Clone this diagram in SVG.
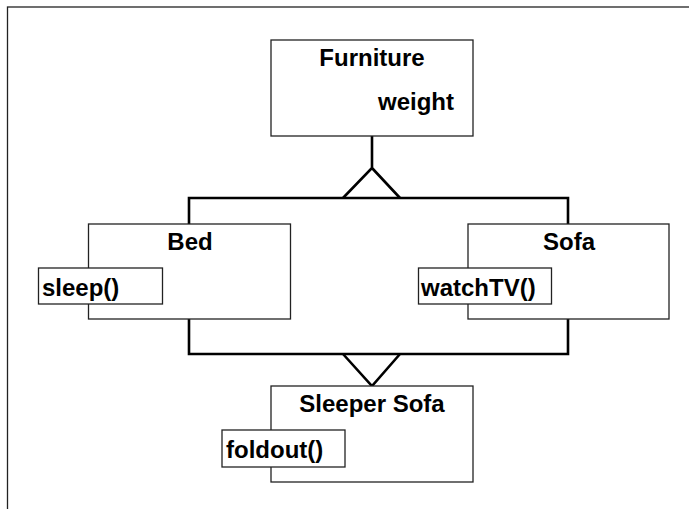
<svg xmlns="http://www.w3.org/2000/svg" width="689" height="509" viewBox="0 0 689 509">
  <style>
    .box { fill: #fff; stroke: #222; stroke-width: 1.3; }
    .conn { fill: none; stroke: #000; stroke-width: 2.6; stroke-linejoin: miter; }
    .t { font-family: "Liberation Sans", Arial, sans-serif; font-weight: bold; font-size: 24px; fill: #000; }
    .c { text-anchor: middle; }
  </style>
  <rect width="689" height="509" fill="#fff"/>
  <!-- frame -->
  <rect x="7.5" y="7" width="700" height="520" fill="none" stroke="#222" stroke-width="1.3"/>

  <g id="connectors">
    <!-- generalisation: Bed, Sofa -> Furniture -->
    <path class="conn" d="M372 136 V168 L343 198 M372 168 L400 198"/>
    <path class="conn" d="M189 224 V198 H568 V224"/>
    <!-- Bed, Sofa -> Sleeper Sofa -->
    <path class="conn" d="M189 319 V354 H568 V319"/>
    <path class="conn" d="M343 354 L372 386 L400 354"/>
  </g>

  <g id="furniture">
    <rect class="box" x="271" y="40" width="202" height="96"/>
    <text class="t c" x="372" y="66">Furniture</text>
    <text class="t" x="378" y="110">weight</text>
  </g>

  <g id="bed">
    <rect class="box" x="88.5" y="224" width="202" height="95"/>
    <text class="t c" x="190" y="250">Bed</text>
    <rect class="box" x="38.5" y="268" width="124" height="36"/>
    <text class="t" x="42" y="296">sleep()</text>
  </g>

  <g id="sofa">
    <rect class="box" x="468" y="224" width="201" height="95"/>
    <text class="t c" x="569" y="250">Sofa</text>
    <rect class="box" x="418.5" y="268" width="133" height="36"/>
    <text class="t" x="421" y="296">watchTV()</text>
  </g>

  <g id="sleeper-sofa">
    <rect class="box" x="271" y="386" width="202" height="96"/>
    <text class="t c" x="372" y="412">Sleeper Sofa</text>
    <rect class="box" x="222" y="430" width="123" height="37"/>
    <text class="t" x="226" y="458">foldout()</text>
  </g>
</svg>
